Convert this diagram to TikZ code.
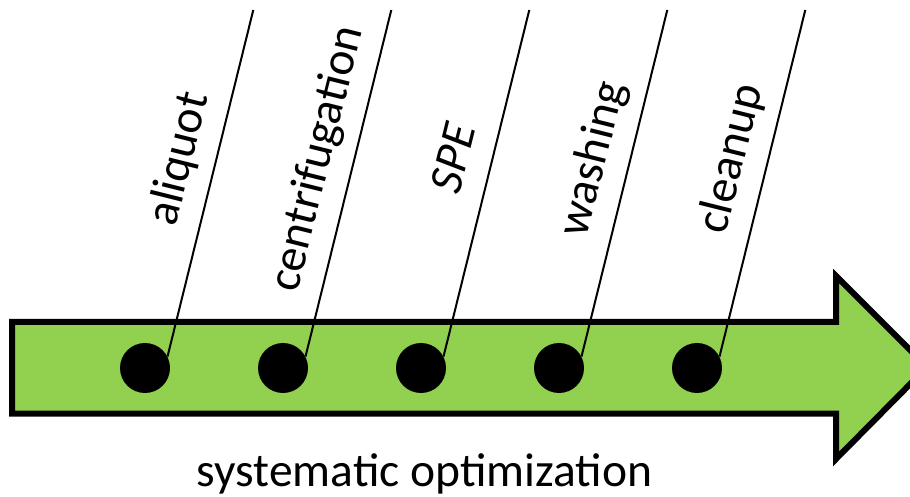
\documentclass[tikz,border=0pt]{standalone}
\usepackage{fontspec}
\setmainfont{Carlito}
\definecolor{stagegreen}{HTML}{92D050}
\tikzset{
  arrowbody/.style={draw=black, fill=stagegreen, line width=1.5mm, line join=miter},
  stage/.style={circle, fill=black, inner sep=0pt, minimum size=12.5mm},
  stem/.style={line width=0.5mm},
  steplabel/.style={rotate=76, anchor=base, inner sep=0pt, font=\fontsize{33.8}{40}\selectfont},
}
\begin{document}
\begin{tikzpicture}[x=0.25mm, y=0.25mm]
    \useasboundingbox (0,0) rectangle (910,496);
    \clip (0,0) rectangle (910,496);
    % big arrow
    \draw[arrowbody] (12,174) -- (836,174) -- (836,220) -- (927,129)
        -- (836,37) -- (836,82.3) -- (12,82.3) -- cycle;
    % stages on the arrow
    \node[stage] (d1) at (145,128) {};
    \node[stage] (d2) at (283,128) {};
    \node[stage] (d3) at (421,128) {};
    \node[stage] (d4) at (559,128) {};
    \node[stage] (d5) at (697,128) {};
    % free ends of the leader lines
    \coordinate (t1) at (253.3,486);
    \coordinate (t2) at (391.3,486);
    \coordinate (t3) at (529.3,486);
    \coordinate (t4) at (667.3,486);
    \coordinate (t5) at (805.3,486);
    \draw[stem] (d1.27) -- (t1);
    \draw[stem] (d2.27) -- (t2);
    \draw[stem] (d3.27) -- (t3);
    \draw[stem] (d4.27) -- (t4);
    \draw[stem] (d5.27) -- (t5);
    % labels along the lines
    \node[steplabel] (l1) at (192,334) {aliquot};
    \node[steplabel] (l2) at (330,334) {centrifugation};
    \node[steplabel] (l3) at (468,334) {\itshape SPE};
    \node[steplabel] (l4) at (606,334) {washing};
    \node[steplabel] (l5) at (744,334) {cleanup};
    \node[anchor=base, inner sep=0pt, font=\fontsize{33.8}{40}\selectfont] (opt) at (424.5,9.3) {systematic optimization};
\end{tikzpicture}
\end{document}
